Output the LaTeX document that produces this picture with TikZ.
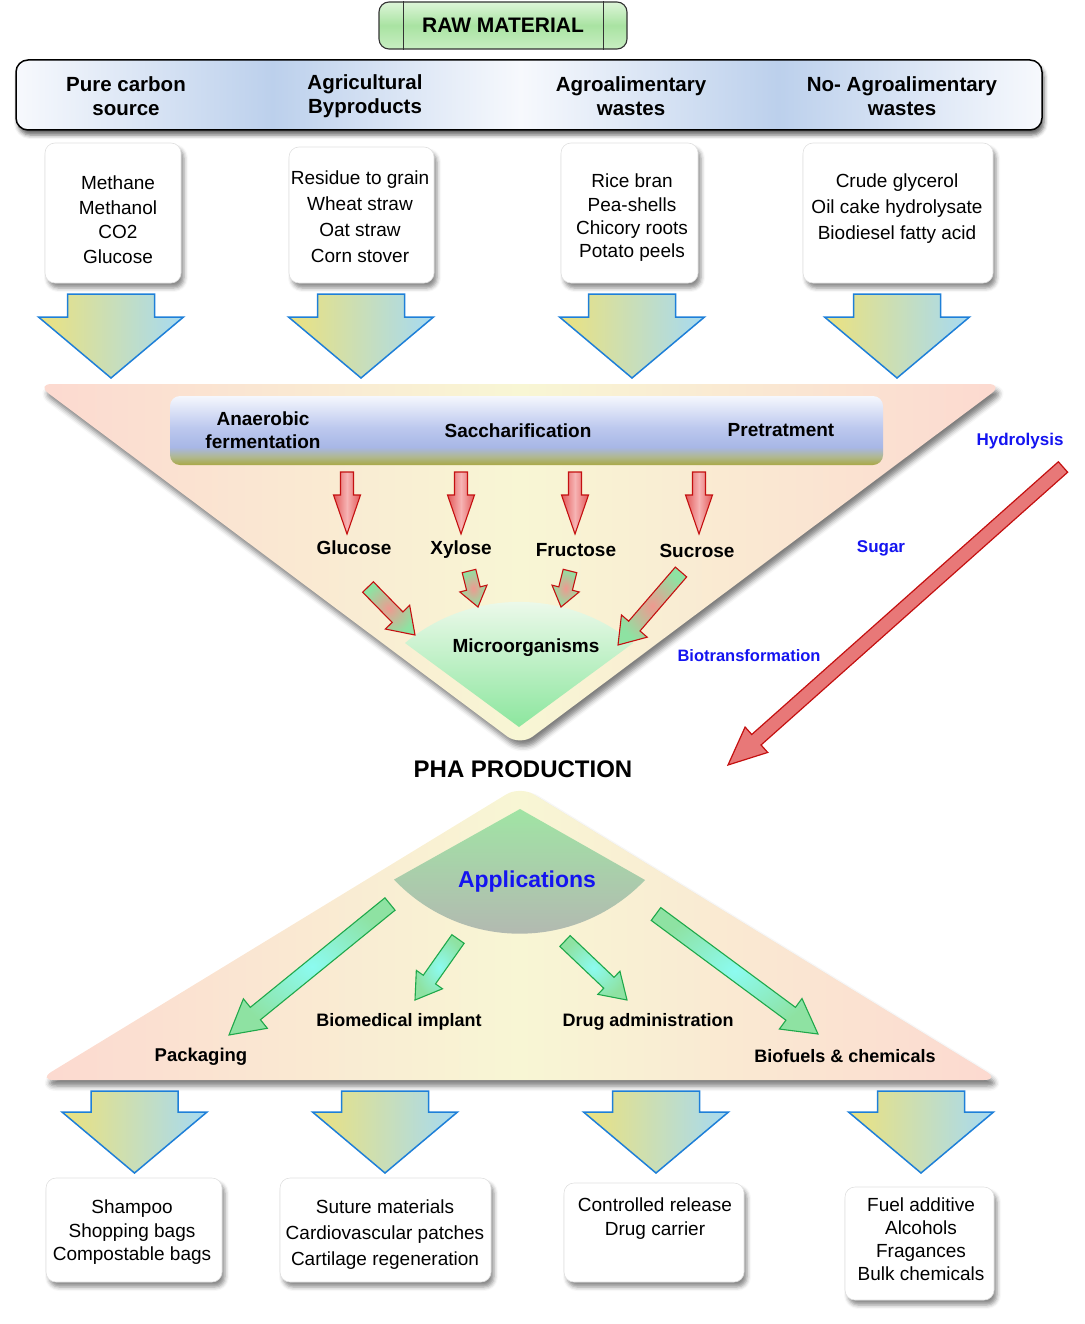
\documentclass[tikz,border=0pt]{standalone}
\usepackage{fontspec}
\setmainfont{Liberation Sans}
\usetikzlibrary{calc,shadows,shadows.blur}

\definecolor{arrowblue}{HTML}{1E7FD8}
\definecolor{ayellow}{HTML}{ECE27E}
\definecolor{ablue}{HTML}{A6DAF2}
\definecolor{tripink}{HTML}{FCD9D0}
\definecolor{tricream}{HTML}{F8F6D4}
\definecolor{bannerblue}{HTML}{BCD0EC}
\definecolor{bannerwhite}{HTML}{F7F9FD}
\definecolor{labelblue}{HTML}{1414F0}
\definecolor{redline}{HTML}{C41010}
\definecolor{redfill}{HTML}{E25858}
\definecolor{redlight}{HTML}{F6B4B4}
\definecolor{hydfill}{HTML}{E87878}
\definecolor{mixpink}{HTML}{EE9A90}
\definecolor{greenline}{HTML}{1FA84A}
\definecolor{greenfill}{HTML}{8EE2A2}
\definecolor{cyanfill}{HTML}{8CFBF0}
\definecolor{rawtop}{HTML}{DDF5D8}
\definecolor{rawmid}{HTML}{A9E3A2}
\definecolor{rawbot}{HTML}{C8EEC2}
\definecolor{barolive}{HTML}{A9A846}
\definecolor{barmix}{HTML}{B0B890}
\definecolor{barblue}{HTML}{A8B7E6}
\definecolor{barblue2}{HTML}{BCC8EE}
\definecolor{bartop}{HTML}{F5F7FD}
\definecolor{microtop}{HTML}{F6FBF2}
\definecolor{microbot}{HTML}{8CE69E}
\definecolor{appgreen}{HTML}{A0E4A4}
\definecolor{appgrey}{HTML}{B4B6B2}

\pgfdeclarehorizontalshading{bannershade}{100bp}{color(0bp)=(bannerwhite); color(25bp)=(bannerwhite); color(37.5bp)=(bannerblue); color(49.6bp)=(bannerwhite); color(62.1bp)=(bannerblue); color(75bp)=(bannerwhite); color(100bp)=(bannerwhite)}
\pgfdeclareverticalshading{barshade}{100bp}{color(0bp)=(barolive); color(25bp)=(barolive); color(31bp)=(barmix); color(38bp)=(barblue); color(52bp)=(barblue2); color(75bp)=(bartop); color(100bp)=(bartop)}

% #1 style, #2 tail, #3 tip, #4 shaft half width, #5 head half width, #6 head length
\newcommand{\fatarrow}[6]{%
  \coordinate (fan) at ($(#3)!#6!(#2)$);
  \path[#1] ($(#2)!#4!90:(#3)$) -- ($(fan)!#4!90:(#3)$) -- ($(fan)!#5!90:(#3)$) -- (#3)
    -- ($(fan)!#5!-90:(#3)$) -- ($(fan)!#4!-90:(#3)$) -- ($(#2)!#4!-90:(#3)$) -- cycle;}
% #1 centre x, #2 top, #3 shoulder, #4 tip
\newcommand{\blockdown}[4]{%
  \path[blockarrow] ({#1-43.5},#2) -- ({#1+43.5},#2) -- ({#1+43.5},#3) -- ({#1+72.5},#3)
    -- (#1,#4) -- ({#1-72.5},#3) -- ({#1-43.5},#3) -- cycle;}

\begin{document}
\begin{tikzpicture}[x=1pt,y=-1pt,
  box/.style={draw=black!12, line width=0.6pt, fill=white, rounded corners=10pt,
    blur shadow={shadow xshift=3pt, shadow yshift=-5pt, shadow blur radius=4pt, shadow opacity=45}, inner sep=0pt},
  boxtext/.style={font=\fontsize{19}{24.5}\selectfont, align=center, inner sep=0pt},
  headtext/.style={font=\fontsize{20.5}{24}\selectfont\bfseries, align=center, inner sep=0pt},
  midtext/.style={font=\fontsize{19}{23}\selectfont\bfseries, align=center, inner sep=0pt},
  bluetext/.style={font=\fontsize{17}{20}\selectfont\bfseries, text=labelblue, inner sep=0pt},
  apptext/.style={font=\fontsize{18}{20}\selectfont\bfseries, inner sep=0pt},
  blockarrow/.style={draw=arrowblue, line width=1.5pt, left color=ayellow, right color=ablue},
  redarrow/.style={draw=redline, line width=1.1pt, left color=redfill, right color=redfill, middle color=redlight},
  mixarrow/.style={draw=redline, line width=1.1pt, inner color=mixpink, outer color=greenfill},
  hydarrow/.style={draw=redline, line width=1.2pt, fill=hydfill},
  greenarrow/.style={draw=greenline, line width=1.1pt, inner color=cyanfill, outer color=greenfill},
  tri/.style={left color=tripink, right color=tripink, middle color=tricream, rounded corners=16pt,
    blur shadow={shadow xshift=3pt, shadow yshift=-6pt, shadow blur radius=5pt, shadow opacity=50}}
]
\useasboundingbox (0,0) rectangle (1084,1324);

% ---------- RAW MATERIAL ----------
\node[draw=black!80, line width=1.1pt, rounded corners=10pt, minimum width=248pt, minimum height=47pt,
  top color=rawtop, bottom color=rawbot, middle color=rawmid, inner sep=0pt,
  font=\fontsize{21}{24}\selectfont\bfseries] (raw) at (503,25.5) {RAW MATERIAL};
\draw[black!80, line width=1pt] ([xshift=25pt]raw.north west) -- ([xshift=25pt]raw.south west);
\draw[black!80, line width=1pt] ([xshift=-24pt]raw.north east) -- ([xshift=-24pt]raw.south east);

% ---------- banner ----------
\node[draw=black, line width=1.5pt, rounded corners=12pt, minimum width=1026pt, minimum height=70pt,
  shade, shading=bannershade, inner sep=0pt,
  blur shadow={shadow xshift=2pt, shadow yshift=-5pt, shadow blur radius=4pt, shadow opacity=60}] (banner) at (529,95) {};
\node[headtext] (h1) at (126,96) {Pure carbon\\source};
\node[headtext] (h2) at (365,96) {Agricultural\\Byproducts};
\node[headtext] (h3) at (631,96) {Agroalimentary\\wastes};
\node[headtext] (h4) at (902,96) {No- Agroalimentary\\wastes};

% ---------- upper boxes ----------
\node[box, minimum width=136pt, minimum height=140pt] (b1) at (113,213) {};
\node[box, minimum width=145pt, minimum height=136pt] (b2) at (361.5,215) {};
\node[box, minimum width=137pt, minimum height=140pt] (b3) at (629.5,213) {};
\node[box, minimum width=190pt, minimum height=140pt] (b4) at (898,213) {};
\node[boxtext] (t1) at (118,219.5) {Methane\\Methanol\\CO2\\Glucose};
\node[boxtext, font=\fontsize{19}{26}\selectfont] (t2) at (360,217) {Residue to grain\\Wheat straw\\Oat straw\\Corn stover};
\node[boxtext, font=\fontsize{19}{23.3}\selectfont] (t3) at (632,218) {Rice bran\\Pea-shells\\Chicory roots\\Potato peels};
\node[boxtext, font=\fontsize{19}{26}\selectfont] (t4) at (897,209) {Crude glycerol\\Oil cake hydrolysate\\Biodiesel fatty acid};

% ---------- upper block arrows ----------
\blockdown{111}{294}{317}{378}
\blockdown{361}{294}{317}{378}
\blockdown{632}{294}{317}{378}
\blockdown{897}{294}{317}{378}

% ---------- upper triangle ----------
\path[tri] (36,384) -- (1004,384) -- (520,746) -- cycle;

% process bar
\node[shade, shading=barshade, rounded corners=10pt, minimum width=713pt, minimum height=69pt, inner sep=0pt] (bar) at (526.5,430.5) {};
\node[midtext] (anaer) at (263,430) {Anaerobic\\fermentation};
\node[midtext] (sacch) at (518,431) {Saccharification};
\node[midtext] (pretr) at (781,430) {Pretratment};

% red arrows to sugars
\coordinate (ra1t) at (347,472); \coordinate (ra1h) at (347,534);
\coordinate (ra2t) at (461,472); \coordinate (ra2h) at (461,534);
\coordinate (ra3t) at (575,472); \coordinate (ra3h) at (575,534);
\coordinate (ra4t) at (699,472); \coordinate (ra4h) at (699,534);
\fatarrow{redarrow}{ra1t}{ra1h}{6.5pt}{13.5pt}{39pt}
\fatarrow{redarrow}{ra2t}{ra2h}{6.5pt}{13.5pt}{39pt}
\fatarrow{redarrow}{ra3t}{ra3h}{6.5pt}{13.5pt}{39pt}
\fatarrow{redarrow}{ra4t}{ra4h}{6.5pt}{13.5pt}{39pt}

\node[midtext] (glu) at (354,548) {Glucose};
\node[midtext] (xyl) at (461,550) {Xylose};
\node[midtext] (fru) at (576,550) {Fructose};
\node[midtext] (suc) at (697,551) {Sucrose};

% microorganisms dome
\path[top color=microtop, bottom color=microbot] (405,643) arc[start angle=230.4, end angle=309.6, radius=179] -- (519,727) -- cycle;
\node[midtext] (micro) at (526,648) {Microorganisms};

% small arrows sugars -> microorganisms
\coordinate (sa1t) at (368,587); \coordinate (sa1h) at (415,635);
\coordinate (sa2t) at (469,571); \coordinate (sa2h) at (478,607);
\coordinate (sa3t) at (570,571); \coordinate (sa3h) at (561,607);
\coordinate (sa4t) at (681,572); \coordinate (sa4h) at (618,645);
\fatarrow{mixarrow}{sa1t}{sa1h}{7.5pt}{17pt}{25pt}
\fatarrow{mixarrow}{sa2t}{sa2h}{7pt}{14pt}{19pt}
\fatarrow{mixarrow}{sa3t}{sa3h}{7pt}{14pt}{19pt}
\fatarrow{mixarrow}{sa4t}{sa4h}{7.5pt}{17pt}{25pt}

% blue process labels
\node[bluetext] (hydro) at (1020,441) {Hydrolysis};
\node[bluetext] (sugar) at (881,548) {Sugar};
\node[bluetext, font=\fontsize{16.5}{20}\selectfont\bfseries] (biotr) at (749,656) {Biotransformation};

% long hydrolysis arrow
\coordinate (hyt) at (1063,467); \coordinate (hyh) at (728,765);
\fatarrow{hydarrow}{hyt}{hyh}{7pt}{17pt}{38pt}

% ---------- PHA production ----------
\node[font=\fontsize{24}{28}\selectfont\bfseries, inner sep=0pt] (pha) at (523,769) {PHA PRODUCTION};

% ---------- lower triangle ----------
\path[tri] (520,786) -- (1000,1080) -- (38,1080) -- cycle;

\path[top color=appgreen, bottom color=appgrey] (520,809) -- (645,880) arc[start angle=43.6, end angle=136.6, radius=173] -- cycle;
\node[font=\fontsize{23}{26}\selectfont\bfseries, text=labelblue, inner sep=0pt] (appl) at (527,882) {Applications};

\coordinate (ga1t) at (390,904); \coordinate (ga1h) at (229,1035);
\coordinate (ga2t) at (458,939); \coordinate (ga2h) at (415,1000);
\coordinate (ga3t) at (565,941); \coordinate (ga3h) at (627,1000);
\coordinate (ga4t) at (656,914); \coordinate (ga4h) at (818,1034);
\fatarrow{greenarrow}{ga1t}{ga1h}{8pt}{19pt}{34pt}
\fatarrow{greenarrow}{ga2t}{ga2h}{7.5pt}{16pt}{25pt}
\fatarrow{greenarrow}{ga3t}{ga3h}{7.5pt}{16pt}{25pt}
\fatarrow{greenarrow}{ga4t}{ga4h}{8pt}{19pt}{34pt}

\node[apptext, font=\fontsize{18.5}{20}\selectfont\bfseries] (pack) at (201,1057) {Packaging};
\node[apptext] (biomed) at (399,1022) {Biomedical implant};
\node[apptext] (drug) at (648,1022) {Drug administration};
\node[apptext] (biofuel) at (845,1056) {Biofuels \& chemicals};

% ---------- lower block arrows ----------
\blockdown{134.5}{1091}{1112}{1173}
\blockdown{385}{1091}{1112}{1173}
\blockdown{656}{1091}{1112}{1173}
\blockdown{921}{1091}{1112}{1173}

% ---------- lower boxes ----------
\node[box, minimum width=176pt, minimum height=104pt] (c1) at (134,1230) {};
\node[box, minimum width=211pt, minimum height=104pt] (c2) at (385.5,1230) {};
\node[box, minimum width=180pt, minimum height=99pt] (c3) at (654,1232.5) {};
\node[box, minimum width=149pt, minimum height=113pt] (c4) at (919.5,1243.5) {};
\node[boxtext, font=\fontsize{19}{23.5}\selectfont] (u1) at (132,1232.5) {Shampoo\\Shopping bags\\Compostable bags};
\node[boxtext, font=\fontsize{19}{26}\selectfont] (u2) at (385,1235) {Suture materials\\Cardiovascular patches\\Cartilage regeneration};
\node[boxtext, font=\fontsize{19}{24}\selectfont] (u3) at (655,1219) {Controlled release\\Drug carrier};
\node[boxtext, font=\fontsize{19}{23}\selectfont] (u4) at (921,1239.5) {Fuel additive\\Alcohols\\Fragances\\Bulk chemicals};
\end{tikzpicture}
\end{document}
